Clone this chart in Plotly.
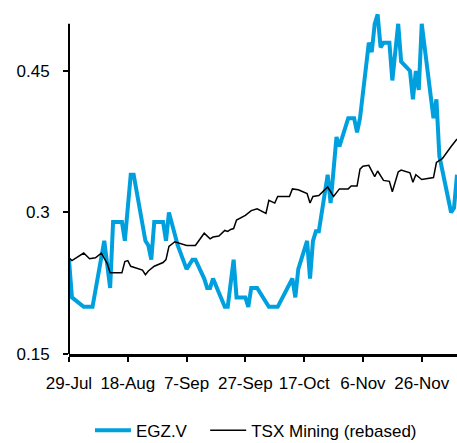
import plotly.graph_objects as go

# EGZ.V closing prices
egz_dates = [
    "2016-07-29", "2016-07-30", "2016-08-03", "2016-08-06", "2016-08-10", "2016-08-12",
    "2016-08-13", "2016-08-16", "2016-08-17", "2016-08-19", "2016-08-20", "2016-08-24",
    "2016-08-25", "2016-08-26", "2016-08-27", "2016-08-30", "2016-08-31", "2016-09-01",
    "2016-09-04", "2016-09-07", "2016-09-09", "2016-09-10", "2016-09-13", "2016-09-14",
    "2016-09-15", "2016-09-16", "2016-09-18", "2016-09-20", "2016-09-21", "2016-09-23",
    "2016-09-24", "2016-09-27", "2016-09-28", "2016-09-29", "2016-10-01", "2016-10-03",
    "2016-10-05", "2016-10-08", "2016-10-13", "2016-10-14", "2016-10-15", "2016-10-18",
    "2016-10-19", "2016-10-20", "2016-10-21", "2016-10-22", "2016-10-25", "2016-10-26",
    "2016-10-28", "2016-10-29", "2016-11-01", "2016-11-03", "2016-11-04", "2016-11-05",
    "2016-11-08", "2016-11-09", "2016-11-10", "2016-11-11", "2016-11-12", "2016-11-13",
    "2016-11-15", "2016-11-16", "2016-11-18", "2016-11-19", "2016-11-22", "2016-11-23",
    "2016-11-24", "2016-11-25", "2016-11-26", "2016-11-30", "2016-12-01", "2016-12-02",
    "2016-12-06", "2016-12-07", "2016-12-08",
]
egz_values = [
    0.25, 0.21, 0.20, 0.20, 0.27, 0.22,
    0.29, 0.29, 0.27, 0.34, 0.34, 0.27,
    0.265, 0.25, 0.29, 0.29, 0.27, 0.30,
    0.265, 0.24, 0.25, 0.25, 0.23, 0.22,
    0.22, 0.23, 0.215, 0.20, 0.20, 0.25,
    0.21, 0.21, 0.20, 0.22, 0.22, 0.21,
    0.20, 0.20, 0.23, 0.21, 0.24, 0.27,
    0.23, 0.27, 0.28, 0.28, 0.34, 0.31,
    0.38, 0.37, 0.40, 0.40, 0.385, 0.40,
    0.48, 0.47, 0.50, 0.51, 0.475, 0.48,
    0.48, 0.44, 0.50, 0.46, 0.45, 0.42,
    0.45, 0.43, 0.50, 0.40, 0.42, 0.36,
    0.30, 0.305, 0.34,
]

# TSX Mining index, rebased to the EGZ.V starting price
tsx_dates = [
    "2016-07-29", "2016-07-30", "2016-08-03", "2016-08-05", "2016-08-07", "2016-08-09",
    "2016-08-11", "2016-08-12", "2016-08-16", "2016-08-17", "2016-08-18", "2016-08-19",
    "2016-08-23", "2016-08-24", "2016-08-25", "2016-08-27", "2016-08-30", "2016-08-31",
    "2016-09-01", "2016-09-03", "2016-09-07", "2016-09-10", "2016-09-13", "2016-09-15",
    "2016-09-16", "2016-09-18", "2016-09-20", "2016-09-21", "2016-09-22", "2016-09-23",
    "2016-09-24", "2016-09-27", "2016-09-29", "2016-10-01", "2016-10-04", "2016-10-05",
    "2016-10-07", "2016-10-08", "2016-10-12", "2016-10-13", "2016-10-15", "2016-10-18",
    "2016-10-19", "2016-10-20", "2016-10-22", "2016-10-25", "2016-10-27", "2016-10-29",
    "2016-11-01", "2016-11-02", "2016-11-04", "2016-11-05", "2016-11-06", "2016-11-08",
    "2016-11-10", "2016-11-11", "2016-11-13", "2016-11-15", "2016-11-16", "2016-11-18",
    "2016-11-19", "2016-11-22", "2016-11-23", "2016-11-24", "2016-11-26", "2016-11-30",
    "2016-12-01", "2016-12-03", "2016-12-06", "2016-12-08",
]
tsx_values = [
    0.252, 0.249, 0.257, 0.251, 0.252, 0.257,
    0.246, 0.236, 0.236, 0.248, 0.249, 0.243,
    0.239, 0.234, 0.238, 0.243, 0.247, 0.250,
    0.264, 0.269, 0.265, 0.265, 0.278, 0.272,
    0.274, 0.275, 0.281, 0.280, 0.282, 0.283,
    0.292, 0.297, 0.302, 0.304, 0.299, 0.313,
    0.310, 0.317, 0.317, 0.325, 0.324, 0.320,
    0.310, 0.317, 0.318, 0.327, 0.317, 0.325,
    0.325, 0.328, 0.328, 0.346, 0.349, 0.350,
    0.338, 0.344, 0.334, 0.333, 0.322, 0.343,
    0.345, 0.342, 0.332, 0.340, 0.335, 0.337,
    0.353, 0.357, 0.370, 0.378,
]

tick_dates = ["2016-07-29", "2016-08-18", "2016-09-07", "2016-09-27",
              "2016-10-17", "2016-11-06", "2016-11-26"]
tick_labels = ["29-Jul", "18-Aug", "7-Sep", "27-Sep", "17-Oct", "6-Nov", "26-Nov"]
y_ticks = [0.15, 0.30, 0.45]
y_tick_labels = ["0.15", "0.3", "0.45"]

FONT = "Liberation Sans, Arial, sans-serif"
FSIZE = 17

fig = go.Figure()
fig.add_trace(go.Scatter(
    x=egz_dates, y=egz_values, mode="lines", name="EGZ.V",
    line=dict(color="#00A0DF", width=4), legend="legend",
))
fig.add_trace(go.Scatter(
    x=tsx_dates, y=tsx_values, mode="lines", name="TSX Mining (rebased)",
    line=dict(color="#000000", width=1.5), legend="legend2",
))

# left axis spine stops at 0.50 while the data may run above it
fig.add_shape(type="line", xref="paper", yref="y", x0=0, x1=0, y0=0.15, y1=0.50,
              line=dict(color="black", width=2))

legend_common = dict(orientation="h", xanchor="left", y=-0.222, yanchor="middle",
                     font=dict(family=FONT, size=FSIZE, color="black"),
                     itemwidth=36, bgcolor="rgba(0,0,0,0)")

fig.update_layout(
    width=457, height=443,
    margin=dict(l=69, r=0, t=9, b=89, autoexpand=False),
    paper_bgcolor="white", plot_bgcolor="white",
    font=dict(family=FONT, size=FSIZE, color="black"),
    showlegend=True,
    legend=dict(x=0.054, **legend_common),
    legend2=dict(x=0.351, **legend_common),
    xaxis=dict(
        type="date", range=["2016-07-29", "2016-12-08"],
        tickmode="array", tickvals=tick_dates, ticktext=tick_labels,
        tickangle=0, automargin=False,
        ticks="outside", ticklen=5, tickwidth=1.5, tickcolor="black",
        showline=True, linecolor="black", linewidth=3,
        showgrid=False, zeroline=False,
        tickfont=dict(family=FONT, size=FSIZE, color="black"),
        ticklabelstandoff=7,
    ),
    yaxis=dict(
        range=[0.15, 0.5157], automargin=False,
        tickmode="array", tickvals=y_ticks, ticktext=y_tick_labels,
        ticks="outside", ticklen=5, tickwidth=1.5, tickcolor="black",
        showline=False, showgrid=False, zeroline=False,
        tickfont=dict(family=FONT, size=FSIZE, color="black"),
        ticklabelstandoff=10,
    ),
)

fig.write_html("out.html")
